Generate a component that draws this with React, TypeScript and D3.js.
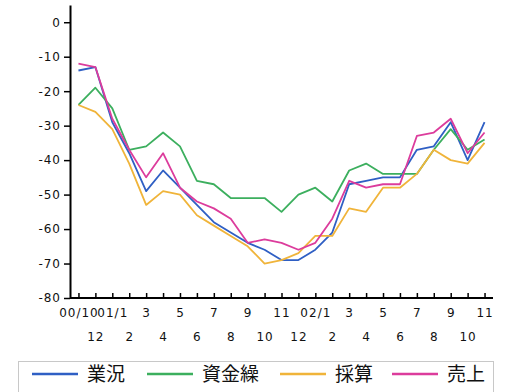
import { useEffect, useRef } from "react";
import * as d3 from "d3";

const monthLabels = [
  "00/10", "12", "01/1", "2", "3", "4", "5", "6", "7", "8", "9", "10", "11",
  "12", "02/1", "2", "3", "4", "5", "6", "7", "8", "9", "10", "11",
];

const gyokyo = [-14, -13, -29, -38, -49, -43, -48, -53, -58, -61, -64, -66, -69, -69, -66, -61, -47, -46, -45, -45, -37, -36, -29, -40, -29];
const shikinguri = [-24, -19, -25, -37, -36, -32, -36, -46, -47, -51, -51, -51, -55, -50, -48, -52, -43, -41, -44, -44, -44, -37, -31, -37, -34];
const saisan = [-24, -26, -31, -41, -53, -49, -50, -56, -59, -62, -65, -70, -69, -67, -62, -62, -54, -55, -48, -48, -44, -37, -40, -41, -35];
const uriage = [-12, -13, -28, -37, -45, -38, -48, -52, -54, -57, -64, -63, -64, -66, -64, -57, -46, -48, -47, -47, -33, -32, -28, -38, -32];

const yTicks = [0, -10, -20, -30, -40, -50, -60, -70, -80];

const series = [
  { name: "業況", values: gyokyo, color: "#2f5fc4" },
  { name: "資金繰", values: shikinguri, color: "#3caf5e" },
  { name: "採算", values: saisan, color: "#f0b43a" },
  { name: "売上", values: uriage, color: "#dc3c9c" },
];

const W = 515;
const H = 392;

const App = () => {
  const svgRef = useRef<SVGSVGElement | null>(null);

  useEffect(() => {
    if (!svgRef.current) return;
    const svg = d3.select(svgRef.current);
    svg.selectAll("*").remove();

    const left = 70;
    const right = 493;
    const top = 5;
    const bottom = 298;

    const x = d3
      .scalePoint<number>()
      .domain(monthLabels.map((_, i) => i))
      .range([left, right])
      .padding(0.5);
    const y = d3.scaleLinear().domain([-80, 5]).range([bottom, top]);

    const font = "'DejaVu Sans', sans-serif";

    // y axis, plain hyphen for the minus sign
    const yAxis = d3
      .axisLeft(y)
      .tickValues(yTicks)
      .tickSize(6)
      .tickPadding(3)
      .tickSizeOuter(0)
      .tickFormat((d) => String(d));
    const yg = svg
      .append("g")
      .attr("transform", `translate(${left},0)`)
      .call(yAxis);
    yg.select(".domain").attr("stroke", "#000").attr("stroke-width", 2);
    yg.selectAll(".tick line").attr("stroke", "#000").attr("stroke-width", 1.5);
    yg.selectAll("text")
      .attr("font-family", font)
      .attr("font-size", "12px")
      .attr("letter-spacing", "1px")
      .attr("fill", "#111");

    // x axis, labels alternate between two rows
    const xAxis = d3
      .axisBottom(x)
      .tickSize(-5)
      .tickSizeOuter(0)
      .tickFormat((i) => monthLabels[i as number]);
    const xg = svg
      .append("g")
      .attr("transform", `translate(0,${bottom})`)
      .call(xAxis);
    xg.select(".domain")
      .attr("d", `M${left},0H${right}`)
      .attr("stroke", "#000")
      .attr("stroke-width", 2);
    xg.selectAll(".tick line").attr("stroke", "#000").attr("stroke-width", 1.5);
    xg.selectAll<SVGTextElement, number>("text")
      .attr("font-family", font)
      .attr("font-size", "12px")
      .attr("letter-spacing", "1px")
      .attr("fill", "#111")
      .attr("dy", null)
      .attr("y", (i) => (i % 2 === 0 ? 19 : 43));

    const line = d3
      .line<number>()
      .x((_, i) => x(i) as number)
      .y((d) => y(d));

    svg
      .append("g")
      .selectAll("path")
      .data(series)
      .enter()
      .append("path")
      .attr("d", (s) => line(s.values))
      .attr("fill", "none")
      .attr("stroke", (s) => s.color)
      .attr("stroke-width", 1.8)
      .attr("stroke-linejoin", "round");

    // legend
    const legend = svg.append("g");
    legend
      .append("rect")
      .attr("x", 18.5)
      .attr("y", 361.5)
      .attr("width", 475)
      .attr("height", 40)
      .attr("fill", "#fff")
      .attr("stroke", "#c8c8c8");

    const legendX = [32, 147, 280, 392];
    const items = legend
      .selectAll("g.item")
      .data(series)
      .enter()
      .append("g")
      .attr("class", "item")
      .attr("transform", (_, i) => `translate(${legendX[i]},374)`);
    items
      .append("line")
      .attr("x1", 0)
      .attr("x2", 46)
      .attr("stroke", (s) => s.color)
      .attr("stroke-width", 2.5);
    items
      .append("text")
      .attr("x", 55)
      .attr("dy", "0.35em")
      .attr("font-family", "'Noto Sans CJK JP', sans-serif")
      .attr("font-size", "19px")
      .attr("fill", "#111")
      .text((s) => s.name);
  }, []);

  return (
    <svg
      ref={svgRef}
      width={W}
      height={H}
      style={{ position: "absolute", left: 0, top: 0, background: "#fff" }}
    />
  );
};

export default App;
